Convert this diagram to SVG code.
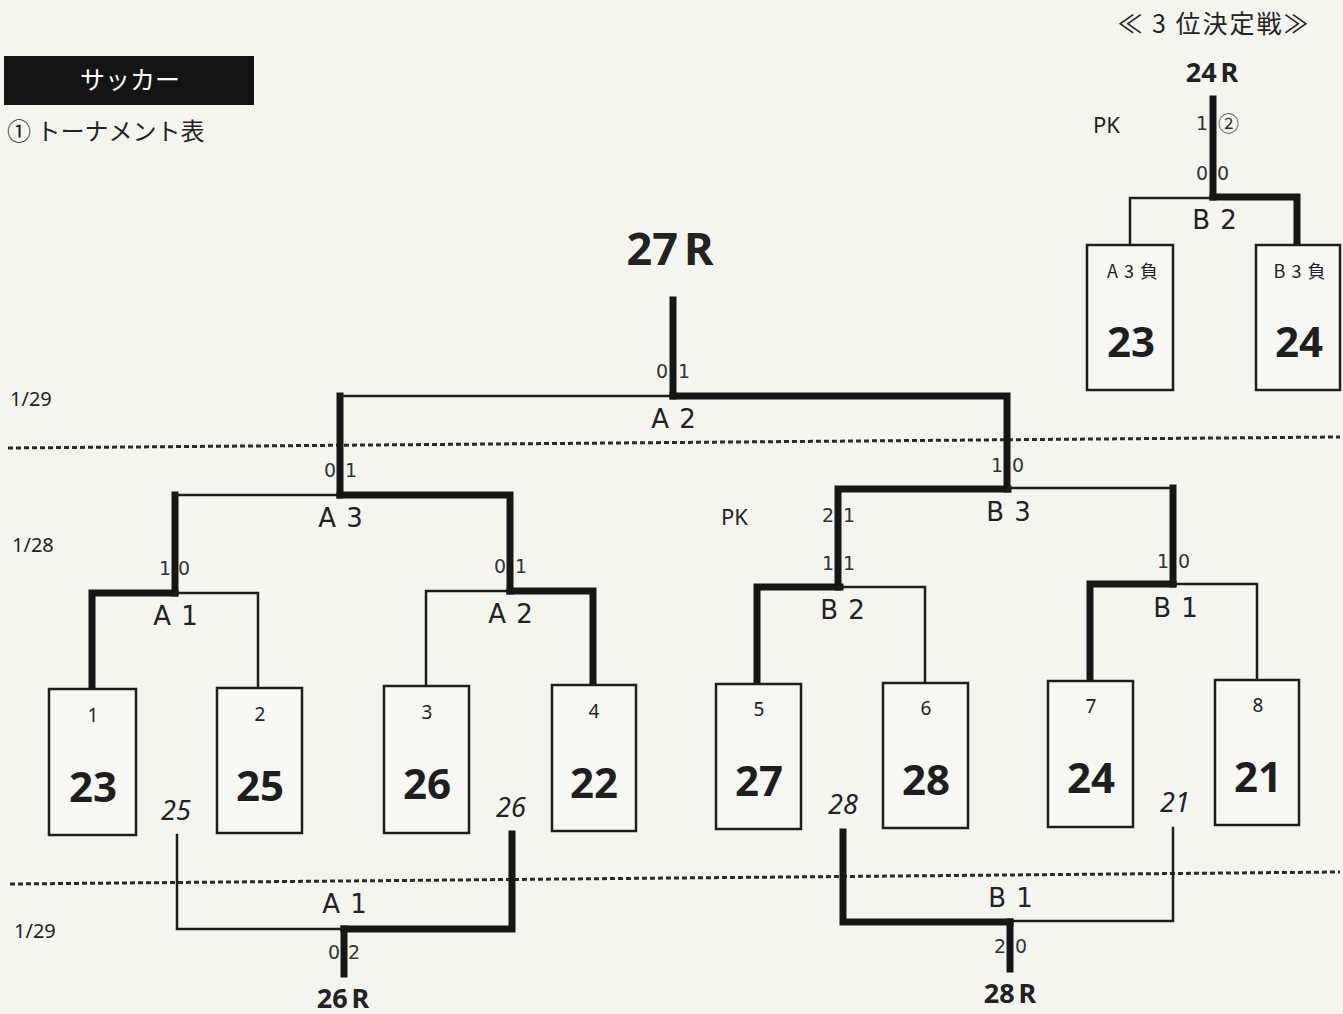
<svg xmlns="http://www.w3.org/2000/svg" width="1343" height="1014" viewBox="0 0 1343 1014">
<style>
.bg{fill:#f5f5f0}
.box{fill:#f7f7f3;stroke:#1e1e1e;stroke-width:2.5}
.thin{fill:none;stroke:#1e1e1e;stroke-width:2.5;stroke-linejoin:miter;stroke-linecap:square}
.thick{fill:none;stroke:#161616;stroke-width:7;stroke-linejoin:miter;stroke-linecap:square}
.dot{fill:none;stroke:#2a2a2a;stroke-width:3;stroke-dasharray:5 3}
.jp{font-family:"Noto Sans CJK JP","Noto Sans",sans-serif;fill:#222}
.lbl{font-family:"DejaVu Sans","Noto Sans",sans-serif;font-size:26px;fill:#222;text-anchor:middle;letter-spacing:1px}
.sc{font-family:"DejaVu Sans",sans-serif;font-size:19px;fill:#333}
.num{font-family:"Noto Sans",sans-serif;font-size:19px;fill:#222;text-anchor:middle}
.big{font-family:"Noto Sans",sans-serif;font-weight:bold;font-size:42px;fill:#1e1e1e;text-anchor:middle}
.rnd{font-family:"Noto Sans",sans-serif;font-weight:bold;fill:#222;text-anchor:middle}
.it{font-family:"Noto Sans",sans-serif;font-style:italic;font-size:27px;fill:#222;text-anchor:middle}
.date{font-family:"Noto Sans",sans-serif;font-size:20px;fill:#222}
.pk{font-family:"Noto Sans",sans-serif;font-size:22px;fill:#222}
</style>
<rect class="bg" x="0" y="0" width="1343" height="1014"/>

<g id="header">
<rect x="4" y="56" width="250" height="49" fill="#141414"/>
<text class="jp" x="130" y="89" font-size="25" text-anchor="middle" style="fill:#fff">サッカー</text>
<text class="jp" x="7" y="140" font-size="24">① トーナメント表</text>
</g>

<g id="dates">
<text class="date" x="10" y="406">1/29</text>
<text class="date" x="12" y="552">1/28</text>
<text class="date" x="14" y="938">1/29</text>
</g>

<g id="dividers">
<line class="dot" x1="8" y1="448" x2="1340" y2="437"/>
<line class="dot" x1="10" y1="884" x2="1340" y2="872"/>
</g>

<g id="connectors">
<path class="thick" d="M92,686 V593 H175"/>
<path class="thin" d="M175,593 H258 V687"/>
<path class="thin" d="M426,685 V591 H510"/>
<path class="thick" d="M510,591 H593 V683"/>
<path class="thick" d="M175,593 V495"/>
<path class="thin" d="M175,495 H340"/>
<path class="thick" d="M340,495 H510 V591"/>
<path class="thick" d="M340,495 V396"/>
<path class="thin" d="M340,396 H673"/>
<path class="thick" d="M673,396 H1007 V489"/>
<path class="thick" d="M673,396 V300"/>
<path class="thick" d="M838,587 V489 H1008"/>
<path class="thin" d="M1008,488 H1173"/>
<path class="thick" d="M1173,488 V584"/>
<path class="thick" d="M757,682 V587 H840"/>
<path class="thin" d="M840,587 H925 V682"/>
<path class="thick" d="M1090,679 V584 H1173"/>
<path class="thin" d="M1173,584 H1257 V679"/>
<path class="thin" d="M177,835 V929 H344"/>
<path class="thick" d="M344,929 H512 V834"/>
<path class="thick" d="M344,929 V974"/>
<path class="thick" d="M843,832 V922 H1010"/>
<path class="thin" d="M1010,921 H1173 V828"/>
<path class="thick" d="M1010,922 V969"/>
<path class="thin" d="M1130,245 V198 H1213"/>
<path class="thick" d="M1213,197 H1297 V243"/>
<path class="thick" d="M1213,99 V197"/>
</g>

<g id="scores">
<text class="sc"><tspan x="668" y="378" text-anchor="end">0</tspan><tspan x="678" y="378">1</tspan></text>
<text class="sc"><tspan x="336" y="477" text-anchor="end">0</tspan><tspan x="345" y="477">1</tspan></text>
<text class="sc"><tspan x="171" y="575" text-anchor="end">1</tspan><tspan x="178" y="575">0</tspan></text>
<text class="sc"><tspan x="506" y="573" text-anchor="end">0</tspan><tspan x="515" y="573">1</tspan></text>
<text class="sc"><tspan x="1003" y="472" text-anchor="end">1</tspan><tspan x="1012" y="472">0</tspan></text>
<text class="sc"><tspan x="834" y="522" text-anchor="end">2</tspan><tspan x="843" y="522">1</tspan></text>
<text class="sc"><tspan x="834" y="570" text-anchor="end">1</tspan><tspan x="843" y="570">1</tspan></text>
<text class="sc"><tspan x="1169" y="568" text-anchor="end">1</tspan><tspan x="1178" y="568">0</tspan></text>
<text class="sc"><tspan x="340" y="959" text-anchor="end">0</tspan><tspan x="348" y="959">2</tspan></text>
<text class="sc"><tspan x="1006" y="953" text-anchor="end">2</tspan><tspan x="1015" y="953">0</tspan></text>
<text class="sc"><tspan x="1208" y="130" text-anchor="end">1</tspan><tspan x="1218" y="131" font-family="Noto Sans CJK JP, sans-serif" font-size="21">②</tspan></text>
<text class="sc"><tspan x="1208" y="180" text-anchor="end">0</tspan><tspan x="1217" y="180">0</tspan></text>
<text class="pk" x="721" y="525">PK</text>
<text class="pk" x="1093" y="133">PK</text>
</g>

<g id="match-labels">
<text class="lbl" x="674" y="428">A 2</text>
<text class="lbl" x="341" y="527">A 3</text>
<text class="lbl" x="176" y="625">A 1</text>
<text class="lbl" x="511" y="623">A 2</text>
<text class="lbl" x="1009" y="521">B 3</text>
<text class="lbl" x="843" y="619">B 2</text>
<text class="lbl" x="1176" y="617">B 1</text>
<text class="lbl" x="345" y="913">A 1</text>
<text class="lbl" x="1011" y="907">B 1</text>
<text class="lbl" x="1215" y="229">B 2</text>
</g>

<g id="rounds">
<text class="rnd" x="670" y="265" font-size="45">27<tspan dx="6">R</tspan></text>
<text class="rnd" x="343" y="1008" font-size="27">26<tspan dx="4">R</tspan></text>
<text class="rnd" x="1010" y="1003" font-size="27">28<tspan dx="4">R</tspan></text>
<text class="rnd" x="1212" y="82" font-size="27">24<tspan dx="4">R</tspan></text>
<text class="jp" x="1214" y="33" font-size="25" text-anchor="middle" letter-spacing="2">≪ 3 位決定戦≫</text>
</g>

<g id="team-1"><rect class="box" x="49" y="689" width="87" height="146"/><text class="num" x="93" y="722">1</text><text class="big" x="93" y="802">23</text></g>
<g id="team-2"><rect class="box" x="217" y="688" width="85" height="145"/><text class="num" x="260" y="721">2</text><text class="big" x="260" y="801">25</text></g>
<g id="team-3"><rect class="box" x="384" y="686" width="85" height="147"/><text class="num" x="427" y="719">3</text><text class="big" x="427" y="799">26</text></g>
<g id="team-4"><rect class="box" x="552" y="685" width="84" height="146"/><text class="num" x="594" y="718">4</text><text class="big" x="594" y="798">22</text></g>
<g id="team-5"><rect class="box" x="716" y="684" width="85" height="145"/><text class="num" x="759" y="716">5</text><text class="big" x="759" y="796">27</text></g>
<g id="team-6"><rect class="box" x="883" y="683" width="85" height="145"/><text class="num" x="926" y="715">6</text><text class="big" x="926" y="795">28</text></g>
<g id="team-7"><rect class="box" x="1048" y="681" width="85" height="146"/><text class="num" x="1091" y="713">7</text><text class="big" x="1091" y="793">24</text></g>
<g id="team-8"><rect class="box" x="1215" y="680" width="84" height="145"/><text class="num" x="1258" y="712">8</text><text class="big" x="1258" y="792">21</text></g>

<g id="third-a"><rect class="box" x="1087" y="245" width="86" height="145"/><text class="jp" x="1133" y="278" font-size="18" text-anchor="middle" letter-spacing="1">A 3 負</text><text class="big" x="1131" y="357">23</text></g>
<g id="third-b"><rect class="box" x="1256" y="245" width="84" height="145"/><text class="jp" x="1300" y="278" font-size="18" text-anchor="middle" letter-spacing="1">B 3 負</text><text class="big" x="1299" y="357">24</text></g>

<g id="winners">
<text class="it" x="176" y="820">25</text>
<text class="it" x="511" y="817">26</text>
<text class="it" x="843" y="814">28</text>
<text class="it" x="1175" y="812">21</text>
</g>
</svg>
